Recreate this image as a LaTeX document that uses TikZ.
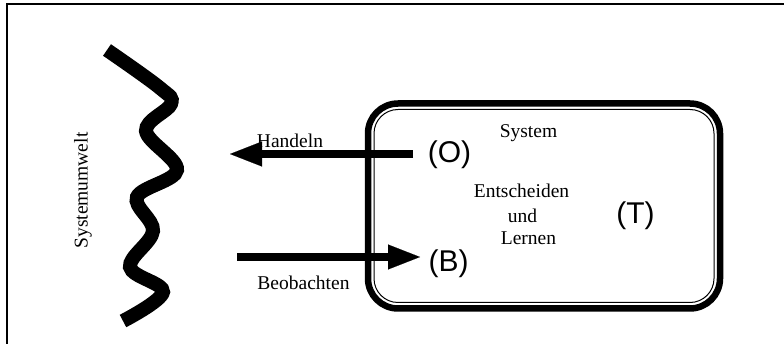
\documentclass[tikz,border=0pt]{standalone}
\usepackage{fontspec}
\setmainfont{Liberation Serif}
\newfontfamily\arialfont{Liberation Sans}
\usetikzlibrary{arrows.meta}
\begin{document}
\begin{tikzpicture}[x=1pt,y=-1pt,
  lbl/.style={font=\fontsize{19.5}{23}\selectfont, inner sep=0pt, anchor=base},
  tag/.style={font=\arialfont\fontsize{30}{32}\selectfont, inner sep=0pt},
  bigarrow/.style={line width=8pt, -{Triangle[length=32pt,width=25pt,line width=0.1pt]}},
  outerbox/.style={draw, line width=6.5pt, rounded corners=30pt, inner sep=0pt},
  innerbox/.style={draw, line width=1pt, rounded corners=24pt, inner sep=0pt},
  wave/.style={line width=14pt, line cap=butt},
]
\useasboundingbox (0,0) rectangle (784,344);
% frame
\coordinate (fl) at (7,344);
\coordinate (fc) at (7,4.5);
\coordinate (fr) at (784,4.5);
\draw[line width=2pt] (fl) -- (fc) -- (fr);

% environment wave
\draw[wave] plot[smooth, tension=0.6] coordinates {(107,50) (160,88) (171,104) (146,131) (177,170) (137,197) (153,231) (130,267) (163,292) (123,321)};
\node[lbl, rotate=90] (umwelt) at (87.5,190.5) {Systemumwelt};

% system box
\node[outerbox, minimum width=352pt, minimum height=205pt] (box) at (544,206) {};
\node[innerbox, minimum width=340pt, minimum height=193pt] (inbox) at (544,206) {};

% texts inside
\node[lbl] (system) at (528.5,138) {System};
\node[lbl] (ent) at (521.5,198) {Entscheiden};
\node[lbl] (und) at (522.5,223) {und};
\node[lbl] (lern) at (528.5,245) {Lernen};
\node[tag] (O) at (449.5,155) {(O)};
\node[tag] (B) at (448.5,264) {(B)};
\node[tag] (T) at (635.5,216) {(T)};

% arrows
\coordinate (hs) at (413,154);
\coordinate (he) at (230,154);
\draw[bigarrow] (hs) -- (he);
\coordinate (bs) at (237,257);
\coordinate (be) at (420,257);
\draw[bigarrow] (bs) -- (be);
\node[lbl] (handeln) at (290,148) {Handeln};
\node[lbl] (beob) at (303.5,290) {Beobachten};
\end{tikzpicture}
\end{document}
